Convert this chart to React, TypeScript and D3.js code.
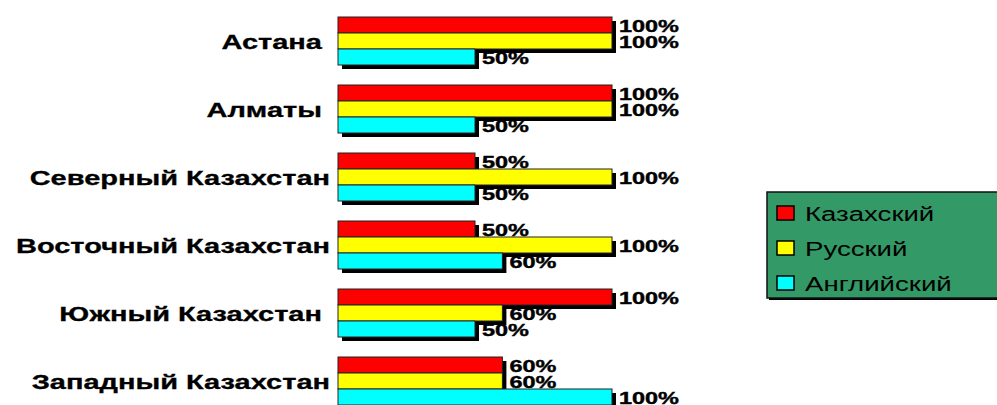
import React from "react";
import * as d3 from "d3";

const categories = [
  "Астана ",
  "Алматы ",
  "Северный Казахстан",
  "Восточный Казахстан",
  "Южный Казахстан ",
  "Западный Казахстан",
];
const seriesNames = ["Казахский", "Русский", "Английский"];
const seriesColors = ["#ff0000", "#ffff00", "#00ffff"];
const kazakh = [100, 100, 50, 50, 100, 60];
const russian = [100, 100, 100, 100, 60, 60];
const english = [50, 50, 50, 60, 50, 100];
const seriesValues = [kazakh, russian, english];

const W = 997;
const H = 405;
const STRETCH = 1.38;
const FONT = "Arial, 'Liberation Sans', sans-serif";

export default function App() {
  const x = d3.scaleLinear().domain([0, 100]).range([338, 612]);
  const y = d3
    .scaleBand<string>()
    .domain(categories)
    .range([17, 405])
    .paddingInner(20 / 68)
    .paddingOuter(0);
  const inner = d3
    .scaleBand<string>()
    .domain(seriesNames)
    .range([0, y.bandwidth()]);
  const bh = inner.bandwidth();
  const sh = 4;

  const bars: any[] = [];
  categories.forEach((c, ci) => {
    seriesNames.forEach((s, si) => {
      bars.push({
        c,
        s,
        si,
        v: seriesValues[si][ci],
        y0: (y(c) as number) + (inner(s) as number),
      });
    });
  });

  return (
    <svg
      width={W}
      height={H}
      style={{ position: "absolute", left: 0, top: 0, background: "#fff" }}
    >
      {/* shadows */}
      {bars.map((b, i) => (
        <rect
          key={"sh" + i}
          x={x(0) + sh}
          y={b.y0 + sh}
          width={x(b.v) - x(0)}
          height={bh}
          fill="#000"
        />
      ))}
      {/* bars */}
      {bars.map((b, i) => (
        <rect
          key={"b" + i}
          x={x(0)}
          y={b.y0}
          width={x(b.v) - x(0)}
          height={bh}
          fill={seriesColors[b.si]}
          stroke="#222"
          strokeWidth={1}
        />
      ))}
      {/* value labels */}
      {bars.map((b, i) => (
        <g
          key={"l" + i}
          transform={`translate(${x(b.v) + 7},${b.y0 + bh / 2 + 6.5}) scale(${STRETCH},1)`}
        >
          <text
            fontFamily={FONT}
            fontWeight="bold"
            fontSize={17}
            fill="#000"
            stroke="#000"
            strokeWidth={0.4}
          >
            {b.v + "%"}
          </text>
        </g>
      ))}
      {/* category labels */}
      {categories.map((c) => (
        <g
          key={"c" + c}
          transform={`translate(330,${(y(c) as number) + y.bandwidth() / 2 + 8}) scale(${STRETCH},1)`}
        >
          <text
            fontFamily={FONT}
            fontWeight="bold"
            fontSize={21}
            textAnchor="end"
            fill="#000"
            stroke="#000"
            strokeWidth={0.3}
            style={{ whiteSpace: "pre" }}
          >
            {c}
          </text>
        </g>
      ))}
      {/* legend */}
      <rect x={769} y={194} width={230} height={106} fill="#000" />
      <rect
        x={767}
        y={192}
        width={232}
        height={106}
        fill="#339966"
        stroke="#111"
        strokeWidth={1.5}
      />
      {seriesNames.map((s, i) => (
        <g key={"lg" + s}>
          <rect
            x={777}
            y={206 + i * 35}
            width={17}
            height={14}
            fill={seriesColors[i]}
            stroke="#000"
            strokeWidth={1.5}
          />
          <g transform={`translate(805,${221 + i * 35}) scale(${STRETCH},1)`}>
            <text fontFamily={FONT} fontSize={20} fill="#000">
              {s}
            </text>
          </g>
        </g>
      ))}
    </svg>
  );
}
